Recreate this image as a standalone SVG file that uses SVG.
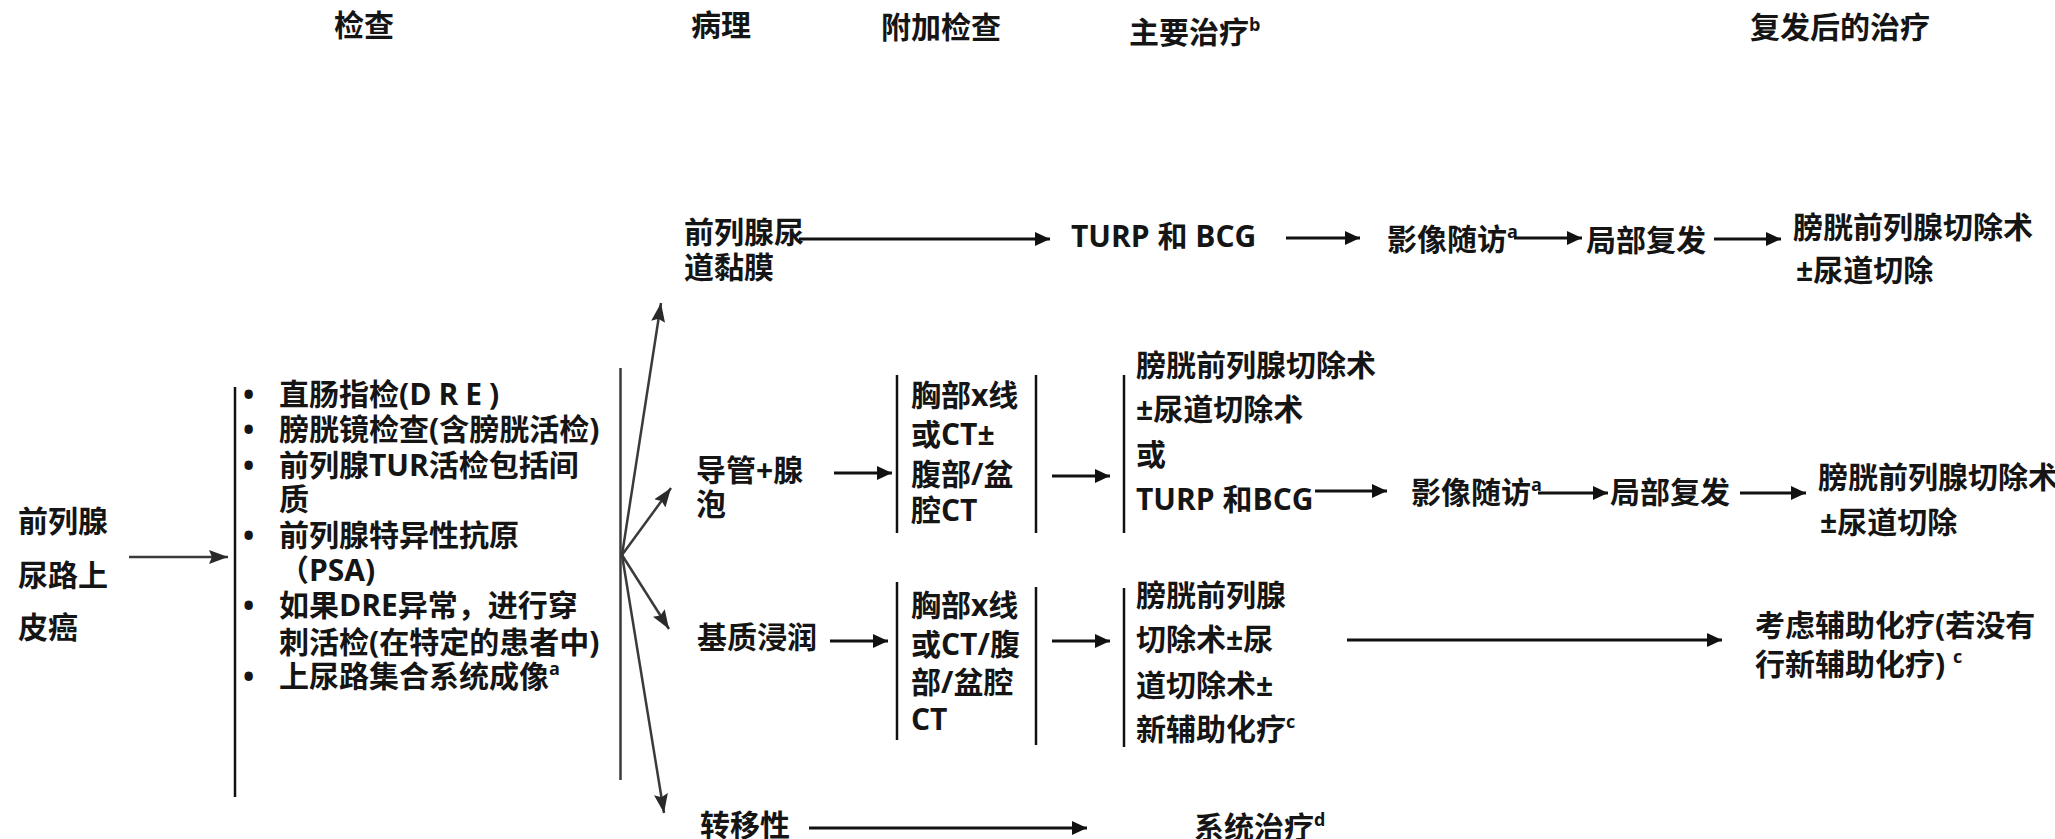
<svg xmlns="http://www.w3.org/2000/svg" width="2055" height="839" viewBox="0 0 2055 839">
<defs>
<style>
text{font-family:"Open Sans","Noto Sans CJK SC",sans-serif;font-weight:700;font-size:30px;fill:#151515}
.sup{font-size:18px}
.ln{stroke:#111;stroke-width:3;fill:none}
.gl{stroke:#3a3a3a;stroke-width:2.5;fill:none}
.vl{stroke:#111;stroke-width:2.5;fill:none}
.ar{stroke:#111;stroke-width:3;fill:none;marker-end:url(#ah)}
.far{stroke:#3a3a3a;stroke-width:2.5;fill:none;marker-end:url(#gh)}
</style>
<marker id="ah" markerUnits="userSpaceOnUse" markerWidth="16" markerHeight="14" refX="15" refY="7" orient="auto"><path d="M0,0 L15,7 L0,14 z" fill="#111"/></marker>
<marker id="gh" markerUnits="userSpaceOnUse" markerWidth="20" markerHeight="14" refX="19" refY="7" orient="auto"><path d="M0,0 L19,7 L0,14 L3,7 z" fill="#2a2a2a"/></marker>
</defs>
<rect width="2055" height="839" fill="#fff"/>

<g id="headers">
<text x="334" y="36">检查</text>
<text x="691" y="36">病理</text>
<text x="881" y="38">附加检查</text>
<text x="1129" y="43">主要治疗<tspan class="sup" dy="-12">b</tspan></text>
<text x="1750" y="38">复发后的治疗</text>
</g>

<g id="n-start">
<text x="18" y="532">前列腺</text>
<text x="18" y="586">尿路上</text>
<text x="18" y="638">皮癌</text>
</g>

<g id="n-exam">
<text x="243" y="405">•</text><text x="279" y="405">直肠指检(<tspan letter-spacing="7">DRE</tspan>)</text>
<text x="243" y="440">•</text><text x="279" y="440">膀胱镜检查(含膀胱活检)</text>
<text x="243" y="476">•</text><text x="279" y="476">前列腺TUR活检包括间</text>
<text x="279" y="510">质</text>
<text x="243" y="546">•</text><text x="279" y="546">前列腺特异性抗原</text>
<text x="279" y="581">（PSA)</text>
<text x="243" y="616">•</text><text x="279" y="616">如果DRE异常，进行穿</text>
<text x="279" y="653">刺活检(在特定的患者中)</text>
<text x="243" y="687">•</text><text x="279" y="687">上尿路集合系统成像<tspan class="sup" dy="-12">a</tspan></text>
</g>

<g id="n-r1-path">
<text x="684" y="243">前列腺尿</text>
<text x="684" y="278">道黏膜</text>
</g>
<g id="n-r1-tx">
<text x="1071" y="247">TURP 和 BCG</text>
</g>
<g id="n-r1-fu">
<text x="1387" y="250">影像随访<tspan class="sup" dy="-12">a</tspan></text>
</g>
<g id="n-r1-rec">
<text x="1586" y="251">局部复发</text>
</g>
<g id="n-r1-final">
<text x="1793" y="238">膀胱前列腺切除术</text>
<text x="1796" y="281">±尿道切除</text>
</g>

<g id="n-r2-path">
<text x="696" y="481">导管+腺</text>
<text x="696" y="515">泡</text>
</g>
<g id="n-r2-exam">
<text x="911" y="406">胸部x线</text>
<text x="911" y="445">或CT±</text>
<text x="911" y="485">腹部/盆</text>
<text x="911" y="521">腔CT</text>
</g>
<g id="n-r2-tx">
<text x="1136" y="376">膀胱前列腺切除术</text>
<text x="1136" y="420">±尿道切除术</text>
<text x="1136" y="465">或</text>
<text x="1136" y="510">TURP 和BCG</text>
</g>
<g id="n-r2-fu">
<text x="1411" y="503">影像随访<tspan class="sup" dy="-12">a</tspan></text>
</g>
<g id="n-r2-rec">
<text x="1610" y="503">局部复发</text>
</g>
<g id="n-r2-final">
<text x="1818" y="488">膀胱前列腺切除术</text>
<text x="1820" y="533">±尿道切除</text>
</g>

<g id="n-r3-path">
<text x="697" y="648">基质浸润</text>
</g>
<g id="n-r3-exam">
<text x="911" y="616">胸部x线</text>
<text x="911" y="655">或CT/腹</text>
<text x="911" y="693">部/盆腔</text>
<text x="911" y="730">CT</text>
</g>
<g id="n-r3-tx">
<text x="1136" y="606">膀胱前列腺</text>
<text x="1136" y="650">切除术±尿</text>
<text x="1136" y="696">道切除术±</text>
<text x="1136" y="740">新辅助化疗<tspan class="sup" dy="-12">c</tspan></text>
</g>
<g id="n-r3-final">
<text x="1755" y="636">考虑辅助化疗(若没有</text>
<text x="1755" y="675">行新辅助化疗) <tspan class="sup" dy="-12">c</tspan></text>
</g>

<g id="n-r4-path">
<text x="700" y="836">转移性</text>
</g>
<g id="n-r4-tx">
<text x="1194" y="838">系统治疗<tspan class="sup" dy="-12">d</tspan></text>
</g>

<g id="connectors">
<line class="gl" x1="129" y1="557" x2="228" y2="557" marker-end="url(#gh)"/>
<line class="vl" x1="235" y1="387" x2="235" y2="797"/>
<line class="gl" x1="620.5" y1="368" x2="620.5" y2="780"/>
<line class="far" x1="622" y1="555" x2="661" y2="303"/>
<line class="far" x1="622" y1="555" x2="671" y2="488"/>
<line class="far" x1="622" y1="555" x2="669" y2="629"/>
<line class="far" x1="622" y1="555" x2="664" y2="813"/>

<line class="ar" x1="799" y1="239" x2="1050" y2="239"/>
<line class="ar" x1="1286" y1="238" x2="1360" y2="238"/>
<line class="ar" x1="1514" y1="238" x2="1582" y2="238"/>
<line class="ar" x1="1714" y1="239" x2="1781" y2="239"/>

<line class="ar" x1="834" y1="473" x2="892" y2="473"/>
<line class="vl" x1="897" y1="375" x2="897" y2="533"/>
<line class="vl" x1="1036" y1="375" x2="1036" y2="533"/>
<line class="ar" x1="1052" y1="476" x2="1110" y2="476"/>
<line class="vl" x1="1124" y1="375" x2="1124" y2="533"/>
<line class="ar" x1="1315" y1="491" x2="1387" y2="491"/>
<line class="ar" x1="1538" y1="493" x2="1608" y2="493"/>
<line class="ar" x1="1740" y1="493" x2="1806" y2="493"/>

<line class="ar" x1="830" y1="641" x2="888" y2="641"/>
<line class="vl" x1="897" y1="582" x2="897" y2="740"/>
<line class="vl" x1="1036" y1="587" x2="1036" y2="745"/>
<line class="ar" x1="1052" y1="641" x2="1110" y2="641"/>
<line class="vl" x1="1124" y1="588" x2="1124" y2="747"/>
<line class="ar" x1="1347" y1="640" x2="1722" y2="640"/>

<line class="ar" x1="809" y1="828" x2="1087" y2="828"/>
</g>
</svg>
